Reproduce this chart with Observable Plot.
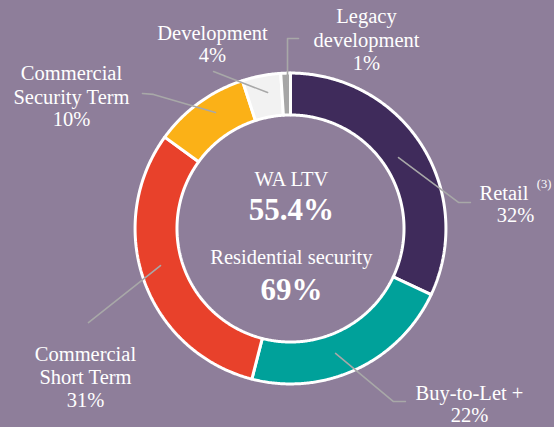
<!DOCTYPE html>
<html>
<head>
<meta charset="utf-8">
<script src="https://cdn.jsdelivr.net/npm/d3@7"></script>
<script src="https://cdn.jsdelivr.net/npm/@observablehq/plot@0.6"></script>
<style>
  html, body { margin: 0; padding: 0; background: #8e7e9a; }
  #chart { width: 554px; height: 427px; }
</style>
</head>
<body>
<div id="chart"></div>
<script>
// ---- data ----
const categories = ["Retail", "Buy-to-Let +", "Commercial\nShort Term", "Commercial\nSecurity Term", "Development", "Legacy\ndevelopment"];
const shares = [32, 22, 31, 10, 4, 1];
const footnotes = ["(3)", "", "", "", "", ""];
const colors = ["#3f2b5b", "#00a19a", "#e8412b", "#fbb117", "#f2f2f2", "#a6a6a6"];
const centerLabels = ["WA LTV", "55.4%", "Residential security", "69%"];

// ---- layout (ring units: 1 = outer radius, centre of ring = 0,0) ----
const rOuter = 0.99, rInner = 0.723;
const labelPos = [[1.433, 0.156], [1.140, -1.118], [-1.306, -0.943], [-1.395, 0.844], [-0.497, 1.175], [0.484, 1.204]];
const footnotePos = [[1.615, 0.282]];
const centerPos = [[0.006, 0.312, 20.5, "normal"], [0.006, 0.115, 31, "bold"], [0.006, -0.185, 20.5, "normal"], [0.006, -0.395, 31, "bold"]];
const leaders = [
  [[0.688, 0.452], [1.070, 0.166], [1.146, 0.166]],
  [[0.287, -0.796], [0.656, -1.102], [0.732, -1.102]],
  [[-0.828, -0.236], [-1.287, -0.599]],
  [[-0.478, 0.739], [-0.873, 0.854], [-0.943, 0.860]],
  [[-0.146, 0.866], [-0.490, 1.0]],
  [[-0.019, 0.911], [-0.019, 1.210], [0.051, 1.210]]
];
const fontSize = 20.5, lineHeight = 1.15, L = fontSize * lineHeight;

// ---- build slices ----
const total = d3.sum(shares);
const slicePts = [];
let acc = 0;
categories.forEach((c, i) => {
  const a0 = acc / total * 2 * Math.PI;
  acc += shares[i];
  const a1 = acc / total * 2 * Math.PI;
  const n = Math.max(2, Math.ceil((a1 - a0) / (Math.PI / 360)));
  const pts = [];
  for (let k = 0; k <= n; k++) { const a = a0 + (a1 - a0) * k / n; pts.push([Math.sin(a) * rOuter, Math.cos(a) * rOuter]); }
  for (let k = n; k >= 0; k--) { const a = a0 + (a1 - a0) * k / n; pts.push([Math.sin(a) * rInner, Math.cos(a) * rInner]); }
  pts.push(pts[0]);
  pts.forEach(p => slicePts.push({cat: c, x: p[0], y: p[1]}));
});

const labels = categories.map((c, i) => ({
  x: labelPos[i][0], y: labelPos[i][1],
  name: c, pct: shares[i] + "%",
  nLines: c.split("\n").length,
  shift: footnotes[i] ? -11.5 : 0
}));
const notes = footnotes.filter(f => f).map((f, j) => ({x: footnotePos[j][0], y: footnotePos[j][1], text: f}));
const leaderPts = leaders.flatMap((l, i) => l.map(p => ({id: i, x: p[0], y: p[1]})));
const centre = centerLabels.map((t, i) => ({text: t, x: centerPos[i][0], y: centerPos[i][1], size: centerPos[i][2], weight: centerPos[i][3]}));

const font = "'Liberation Serif', 'Times New Roman', serif";
const chart = Plot.plot({
  width: 554, height: 427,
  marginLeft: 133, marginRight: 107, marginTop: 71, marginBottom: 42,
  x: {domain: [-1, 1], axis: null},
  y: {domain: [-1, 1], axis: null},
  color: {domain: categories, range: colors},
  style: {background: "#8e7e9a", fontFamily: font, overflow: "visible"},
  marks: [
    Plot.line(slicePts, {x: "x", y: "y", z: "cat", fill: "cat", stroke: "white", strokeWidth: 3, strokeLinejoin: "miter", curve: "linear"}),
    Plot.line(leaderPts, {x: "x", y: "y", z: "id", stroke: "#a8a8a8", strokeWidth: 1.6, curve: "linear"}),
    ...labels.map(d => Plot.text([d], {x: "x", y: "y", text: "name", dx: d.shift, dy: -L / 2, fill: "#ffffff", fontSize, lineHeight, fontFamily: font})),
    ...labels.map(d => Plot.text([d], {x: "x", y: "y", text: "pct", dy: d.nLines * L / 2, fill: "#ffffff", fontSize, fontFamily: font})),
    Plot.text(notes, {x: "x", y: "y", text: "text", fill: "#ffffff", fontSize: 12.5, fontFamily: font}),
    ...centre.map(d => Plot.text([d], {x: "x", y: "y", text: "text", fill: "#ffffff", fontSize: d.size, fontWeight: d.weight, fontFamily: font}))
  ]
});
document.getElementById("chart").appendChild(chart);
</script>
</body>
</html>
